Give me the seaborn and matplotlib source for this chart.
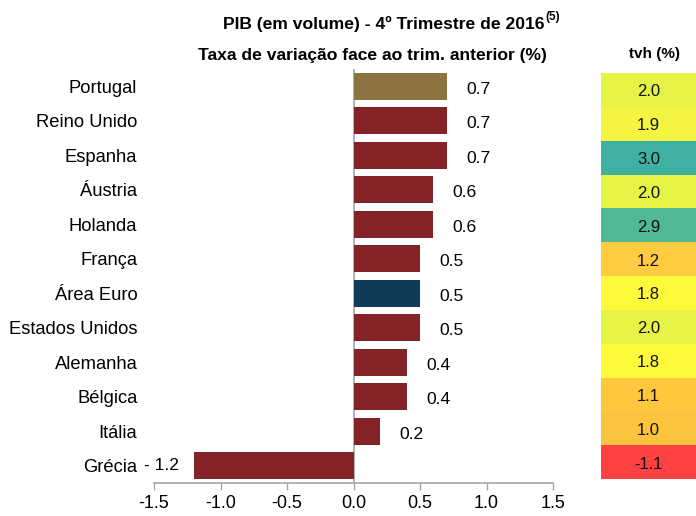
import matplotlib
matplotlib.use("Agg")
import matplotlib.pyplot as plt
import seaborn as sns
import numpy as np
import pandas as pd
from matplotlib.colors import LinearSegmentedColormap

# Donnees
paises = ["Portugal", "Reino Unido", "Espanha", "Áustria", "Holanda", "França",
          "Área Euro", "Estados Unidos", "Alemanha", "Bélgica", "Itália", "Grécia"]
tvc = [0.7, 0.7, 0.7, 0.6, 0.6, 0.5, 0.5, 0.5, 0.4, 0.4, 0.2, -1.2]
tvh = [2.0, 1.9, 3.0, 2.0, 2.9, 1.2, 1.8, 2.0, 1.8, 1.1, 1.0, -1.1]
x_ticks = [-1.5, -1.0, -0.5, 0.0, 0.5, 1.0, 1.5]

cor_pt = "#8C7440"
cor_ue = "#0E3C58"
cor_outros = "#832327"
cores = {p: (cor_pt if p == "Portugal" else cor_ue if p == "Área Euro" else cor_outros)
         for p in paises}

sns.set_theme(style="white")
plt.rcParams["font.family"] = ["Liberation Sans", "DejaVu Sans"]
plt.rcParams["axes.unicode_minus"] = False
plt.rcParams["text.color"] = "black"
plt.rcParams["xtick.labelcolor"] = "black"
plt.rcParams["ytick.labelcolor"] = "black"

fig = plt.figure(figsize=(6.96, 5.16), dpi=100)
ax = fig.add_axes([0.2213, 0.064, 0.5733, 0.8023])

df = pd.DataFrame({"pais": paises, "tvc": tvc})
sns.barplot(data=df, x="tvc", y="pais", hue="pais", palette=cores, legend=False,
            orient="h", width=0.78, saturation=1, linewidth=0, ax=ax)

# Etiquetas de valor (ligeiramente abaixo do centro da barra, como no original)
for i, v in enumerate(tvc):
    if v >= 0:
        ax.annotate(f"{v:.1f}", xy=(v, i), xytext=(14, -2), textcoords="offset points",
                    ha="left", va="center", fontsize=12.6, color="black")
    else:
        ax.annotate(f"- {abs(v):.1f}", xy=(v, i), xytext=(-11, 0),
                    textcoords="offset points", ha="right", va="center",
                    fontsize=12.6, color="black")

ax.set_xlim(-1.5, 1.5)
ax.set_xticks(x_ticks)
ax.set_xticklabels([f"{t:.1f}" for t in x_ticks], fontsize=13)
ax.axvline(0, color="#A6A6A6", lw=1.2, zorder=0)
ax.set_xlabel("")
ax.set_ylabel("")
ax.tick_params(axis="y", length=0, pad=12, labelsize=13.2)
ax.tick_params(axis="x", length=5, width=1, color="#A6A6A6", direction="out",
               pad=4, bottom=True)
for s in ["left", "right", "top"]:
    ax.spines[s].set_visible(False)
ax.spines["bottom"].set_color("#A6A6A6")
ax.spines["bottom"].set_linewidth(1.2)

# Coluna tvh
ax2 = fig.add_axes([0.8635, 0.0717, 0.1365, 0.7868])
cmap = LinearSegmentedColormap.from_list(
    "tvh",
    [(0.0, "#FF4141"),
     ((1.0 + 1.1) / 4.1, "#FCC43C"),
     ((1.2 + 1.1) / 4.1, "#FFCB40"),
     ((1.8 + 1.1) / 4.1, "#FFF93A"),
     ((2.0 + 1.1) / 4.1, "#E8F246"),
     ((2.9 + 1.1) / 4.1, "#52B896"),
     (1.0, "#40B0A2")])
hm = pd.DataFrame({"tvh": tvh}, index=paises)
sns.heatmap(hm, annot=True, fmt=".1f", cmap=cmap, vmin=-1.1, vmax=3.0, cbar=False,
            annot_kws={"fontsize": 12, "color": "#111111"}, ax=ax2)
for t in ax2.texts:
    x0, y0 = t.get_position()
    t.set_position((x0, y0 + 0.06))
ax2.set_xticks([])
ax2.set_yticks([])
ax2.set_xlabel("")
ax2.set_ylabel("")

# Titulos
t1 = fig.text(0.552, 0.953, "PIB (em volume) - 4º Trimestre de 2016", ha="center",
              va="center", fontsize=12.6, fontweight="bold")
ax.annotate("(5)", xy=(1.0, 0.55), xycoords=t1, ha="left", va="bottom",
            fontsize=8.5, fontweight="bold", annotation_clip=False)
fig.text(0.5345, 0.893, "Taxa de variação face ao trim. anterior (%)", ha="center",
         va="center", fontsize=12.6, fontweight="bold")
fig.text(0.941, 0.896, "tvh (%)", ha="center", va="center", fontsize=11,
         fontweight="bold")

plt.savefig("out.png", dpi=100)
plt.close()
